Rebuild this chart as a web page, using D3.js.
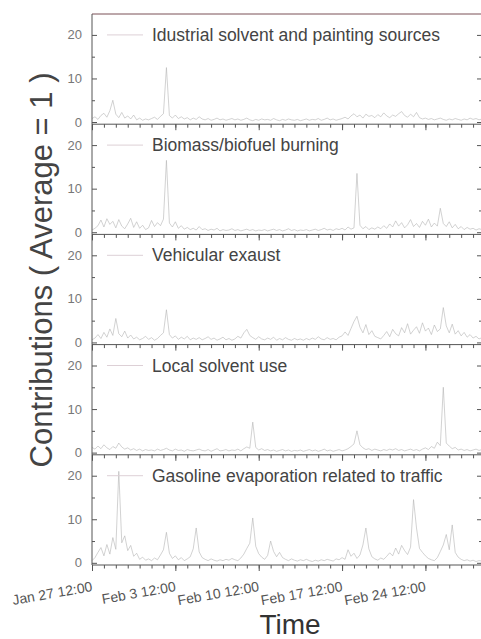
<!DOCTYPE html>
<html>
<head>
<meta charset="utf-8">
<script src="https://cdn.jsdelivr.net/npm/d3@7"></script>
<style>
  body { margin: 0; background: #fff; }
  svg { display: block; font-family: "Liberation Sans", Arial, sans-serif; }
</style>
</head>
<body>
<svg id="chart" width="481" height="639"></svg>
<script>
// panel names, top to bottom
var panelNames = [
  "Idustrial solvent and painting sources",
  "Biomass/biofuel burning",
  "Vehicular exaust",
  "Local solvent use",
  "Gasoline evaporation related to traffic"
];

// one value every 6 hours, starting Jan 27 12:00
var industrial = [
  0.8, 1.2, 0.6, 1.5, 2.0, 1.1, 2.6, 5.0, 1.8, 1.0, 2.2, 0.9,
  1.4, 0.7, 1.6, 0.5, 0.9, 0.4, 0.7, 0.5, 0.8, 1.1, 0.6, 1.3,
  1.9, 12.5, 1.5, 0.9, 1.6, 0.8, 1.2, 0.7, 1.0, 0.5, 0.9, 0.6,
  1.2, 0.7, 0.5, 0.8, 0.4, 0.6, 0.9, 0.5, 0.7, 0.4, 0.6, 0.8,
  0.5, 0.7, 0.4, 0.6, 0.9, 0.5, 0.3, 0.6, 0.4, 0.7, 0.5, 0.6,
  0.4, 0.8, 0.5, 0.3, 0.6, 0.4, 0.7, 0.5, 0.4, 0.6, 0.3, 0.5,
  0.7, 0.4, 0.6, 0.5, 0.8, 0.4, 0.6, 0.9, 0.5, 0.7, 0.4, 0.6,
  0.8, 1.1, 0.7, 1.4, 1.9, 1.2, 1.6, 0.9, 1.8, 1.3, 1.5, 1.0,
  1.7, 1.2, 2.1, 1.4, 1.0, 1.6, 1.3, 1.9, 2.4, 1.5, 1.1, 1.8,
  1.2, 2.2, 1.0, 0.7, 0.9, 0.6, 0.8, 0.5, 0.7, 0.9, 0.6, 0.4,
  0.7, 0.5, 0.8, 0.6, 0.4, 0.7, 0.5, 0.9, 0.6, 0.8, 0.5, 0.7
];
var biomass = [
  0.5, 0.9, 1.5, 2.8, 1.2, 3.1, 1.8, 2.5, 1.0, 2.9, 1.4, 0.8,
  1.9, 3.2, 1.1, 2.4, 0.9, 1.6, 0.6, 1.0, 2.7, 1.3, 2.2, 1.5,
  3.0, 16.5, 2.1, 1.2, 2.4, 0.9, 1.5, 0.7, 1.1, 0.6, 0.9, 0.5,
  1.3, 0.6, 0.8, 0.4, 0.7, 0.5, 0.9, 0.3, 0.6, 0.4, 0.5, 0.8,
  0.4, 0.6, 0.3, 0.5, 0.7, 0.4, 0.6, 0.3, 0.5, 0.4, 0.6, 0.3,
  0.5, 0.7, 0.4, 0.6, 0.3, 0.5, 0.8, 0.4, 0.6, 0.3, 0.5, 0.4,
  0.6, 0.3, 0.5, 0.7, 0.4, 0.6, 0.9, 0.5, 0.7, 0.4, 0.8, 0.6,
  0.9, 0.5, 1.2, 0.7, 1.0, 13.5, 1.6, 0.8, 1.3, 0.6, 1.0, 0.7,
  1.2, 0.8, 1.5, 0.9, 1.9, 1.2, 2.6, 1.4, 2.2, 1.0, 1.7, 2.9,
  1.3, 2.0, 1.1, 2.5, 1.6, 3.0, 1.2, 2.1, 1.4, 5.5, 2.0, 1.3,
  2.4, 1.0, 1.8, 0.8, 1.3, 0.6, 1.1, 0.7, 0.9, 0.5, 0.8, 0.6
];
var vehicular = [
  0.6, 1.0, 1.8, 0.9, 2.3, 1.2, 3.1, 1.6, 5.5, 2.0, 1.3, 2.6,
  1.0, 1.7, 0.8, 1.2, 0.6, 0.9, 1.4, 0.7, 1.1, 0.5, 0.9, 1.6,
  2.2, 7.5, 1.8, 1.0, 1.5, 0.7, 1.2, 0.8, 1.4, 0.6, 1.0, 0.7,
  1.1, 0.6, 0.9, 1.3, 0.7, 1.0, 0.5, 0.8, 1.2, 0.6, 0.9, 0.5,
  0.8, 1.4, 1.0, 2.2, 3.0, 1.6, 1.1, 0.7, 1.3, 0.8, 0.6, 1.0,
  0.7, 1.2, 0.5, 0.9, 0.6, 1.1, 0.7, 0.5, 0.9, 0.6, 0.8, 0.5,
  0.9, 0.6, 1.0, 0.7, 1.3, 0.8, 0.6, 1.1, 0.7, 0.9, 0.6, 1.2,
  1.5, 2.4, 1.6, 3.2, 4.8, 6.0, 3.5, 2.2, 4.1, 1.8, 2.7, 1.4,
  1.1, 0.8, 1.6, 2.5, 1.3, 3.0, 2.0, 1.5, 3.4, 2.2, 4.3, 1.9,
  2.8, 3.6, 2.1, 4.5, 2.6, 3.3, 1.8, 4.0, 2.5, 3.1, 8.0, 3.8,
  2.2, 4.2, 1.9, 2.7, 1.5, 2.3, 1.2, 1.8, 1.0, 1.4, 0.8, 1.1
];
var localSolvent = [
  1.2, 0.8, 1.5, 0.9, 1.8, 1.1, 0.7, 1.4, 1.0, 2.2, 1.3, 0.8,
  1.1, 0.6, 0.9, 0.5, 0.8, 0.4, 0.7, 0.5, 0.6, 0.4, 0.8, 0.5,
  0.7, 1.0, 0.6, 0.4, 0.8, 0.5, 0.6, 0.3, 0.7, 0.5, 0.4, 0.6,
  0.8, 0.5, 0.4, 0.7, 0.3, 0.6, 0.9, 0.4, 0.5, 0.7, 0.4, 0.6,
  0.5, 0.8, 0.4, 0.9, 1.3, 1.0, 7.0, 1.2, 0.6, 0.9, 0.5, 0.7,
  0.4, 0.6, 0.3, 0.5, 0.7, 0.4, 0.6, 0.3, 0.5, 0.4, 0.6, 0.3,
  0.5, 0.7, 0.4, 0.6, 0.3, 0.5, 0.8, 0.4, 0.6, 0.3, 0.5, 0.7,
  0.4, 0.6, 0.9, 1.4, 2.0, 5.0, 1.8, 1.1, 0.7, 0.9, 0.5, 0.8,
  0.6, 0.4, 0.7, 0.5, 0.8, 0.6, 0.9, 0.5, 0.7, 0.4, 0.6, 0.8,
  0.5, 0.7, 0.4, 0.8, 1.1, 0.7, 1.4, 1.0, 2.4, 1.6, 15.0, 2.2,
  1.5, 0.9, 1.2, 0.6, 0.8, 0.5, 0.7, 0.4, 0.6, 0.8, 0.5, 0.7
];
var gasoline = [
  0.5, 1.2, 2.4, 3.5, 1.6, 4.2, 2.0, 5.8, 3.1, 21.0, 4.6, 6.2,
  2.8, 4.0, 1.5, 2.2, 0.8, 1.3, 0.6, 0.9, 0.5, 1.1, 0.7, 1.8,
  3.0, 7.0, 2.2, 1.0, 1.6, 0.7, 1.2, 0.5, 0.9, 1.4, 3.2, 8.0,
  2.5, 1.2, 0.8, 0.5, 0.9, 0.6, 0.4, 0.7, 0.5, 0.8, 0.6, 1.0,
  0.7, 0.5, 1.1, 2.0, 3.3, 4.5, 10.3, 3.8, 2.1, 1.3, 0.8, 1.7,
  5.0, 2.6, 1.4, 2.4, 1.2, 0.8, 0.5, 0.9, 0.6, 0.4, 0.7, 0.5,
  0.8, 0.5, 0.3, 0.6, 0.4, 0.7, 0.5, 0.8, 0.6, 0.4, 0.9, 0.7,
  1.2, 0.8, 3.0, 1.5, 2.2, 1.0, 1.8, 4.1, 8.0, 3.2, 1.4, 0.9,
  0.6, 1.1, 0.8, 1.5, 2.3, 1.6, 3.4, 2.0, 4.0, 2.8, 1.9, 3.6,
  14.5, 8.0, 3.3, 2.4, 1.6, 1.0, 0.7, 0.5, 1.2, 2.6, 4.1, 6.5,
  3.0, 8.7, 2.4, 1.3, 0.8, 0.5, 0.7, 0.4, 0.6, 0.3, 0.5, 0.4
];
var series = [industrial, biomass, vehicular, localSolvent, gasoline];

var yTicks = [0, 10, 20];
var yMinor = [5, 15];
var startTime = new Date(2013, 0, 27, 12, 0);
var stepHours = 6;

// layout
var plotLeft = 92, plotRight = 482, plotTop = 14, panelH = 110.2;
var axisColor = "#555";

var svg = d3.select("#chart");

var endTime = d3.timeHour.offset(startTime, 786);
var x = d3.scaleTime().domain([startTime, endTime]).range([plotLeft, plotRight]);

var majorTicks = d3.range(5).map(function(k) { return d3.timeDay.offset(startTime, 7 * k); });
var minorTicks = d3.range(33).map(function(k) { return d3.timeDay.offset(startTime, k); });
var fmt = d3.timeFormat("%b %-d %H:%M");

// top border of first panel
svg.append("line")
  .attr("x1", plotLeft).attr("x2", plotRight)
  .attr("y1", plotTop).attr("y2", plotTop)
  .attr("stroke", "#7a5056").attr("stroke-width", 1);

series.forEach(function(vals, k) {
  var y0 = plotTop + k * panelH;
  var y = d3.scaleLinear().domain([-0.5, 24.8]).range([y0 + panelH, y0]);
  var g = svg.append("g");

  // the line
  var line = d3.line()
    .x(function(d, i) { return x(d3.timeHour.offset(startTime, i * stepHours)); })
    .y(function(d) { return y(d); });
  g.append("path")
    .datum(vals)
    .attr("d", line)
    .attr("fill", "none")
    .attr("stroke", "#b4b4b4")
    .attr("stroke-width", 0.6);

  // left axis
  var yAx = g.append("g").attr("transform", "translate(" + plotLeft + ",0)")
    .call(d3.axisRight(y).tickValues(yTicks).tickSize(5).tickFormat(""));
  g.append("g").attr("transform", "translate(" + plotLeft + ",0)")
    .call(d3.axisRight(y).tickValues(yMinor).tickSize(3).tickFormat(""))
    .select(".domain").remove();
  yAx.select(".domain").attr("d", "M0," + y0 + "V" + (y0 + panelH));

  // y labels
  g.selectAll("text.ylab")
    .data(yTicks)
    .enter()
    .append("text")
      .attr("class", "ylab")
      .attr("x", 82)
      .attr("y", function(d) { return y(d) + 4.5; })
      .attr("text-anchor", "end")
      .attr("font-size", 13)
      .attr("fill", "#777")
      .text(function(d) { return d; });

  // right axis ticks (axis line itself falls outside the picture)
  g.append("g").attr("transform", "translate(" + plotRight + ",0)")
    .call(d3.axisLeft(y).tickValues(yTicks).tickSize(5).tickFormat(""))
    .select(".domain").remove();
  g.append("g").attr("transform", "translate(" + plotRight + ",0)")
    .call(d3.axisLeft(y).tickValues(yMinor).tickSize(3).tickFormat(""))
    .select(".domain").remove();

  // bottom axis of the panel
  var bx = g.append("g").attr("transform", "translate(0," + (y0 + panelH) + ")")
    .call(d3.axisBottom(x).tickValues(majorTicks).tickSize(6).tickFormat(""));
  bx.select(".domain").attr("d", "M" + plotLeft + ",0H" + plotRight);
  g.append("g").attr("transform", "translate(0," + (y0 + panelH) + ")")
    .call(d3.axisBottom(x).tickValues(minorTicks).tickSize(3.5).tickFormat(""))
    .select(".domain").remove();

  g.selectAll(".tick line, .domain").attr("stroke", axisColor);

  // legend
  g.append("line")
    .attr("x1", 107).attr("x2", 143)
    .attr("y1", y(20)).attr("y2", y(20))
    .attr("stroke", "#ddd0d6").attr("stroke-width", 1);
  g.append("text")
    .attr("x", 152)
    .attr("y", y(20) + 6)
    .attr("font-size", 17.5)
    .attr("fill", "#444")
    .text(panelNames[k]);
});

// x tick labels under the last panel
var plotBottom = plotTop + 5 * panelH;
svg.selectAll("text.xlab")
  .data(majorTicks)
  .enter()
  .append("text")
    .attr("class", "xlab")
    .attr("transform", function(d) { return "translate(" + (x(d) + 1) + "," + (plotBottom + 26) + ") rotate(-10)"; })
    .attr("text-anchor", "end")
    .attr("font-size", 14)
    .attr("fill", "#555")
    .text(function(d) { return fmt(d); });

// axis titles
svg.append("text")
  .attr("x", 290)
  .attr("y", 634)
  .attr("text-anchor", "middle")
  .attr("font-size", 28)
  .attr("fill", "#333")
  .text("Time");

svg.append("text")
  .attr("transform", "translate(52,270) rotate(-90)")
  .attr("text-anchor", "middle")
  .attr("font-size", 31)
  .attr("fill", "#444")
  .text("Contributions ( Average = 1 )");
</script>
</body>
</html>
